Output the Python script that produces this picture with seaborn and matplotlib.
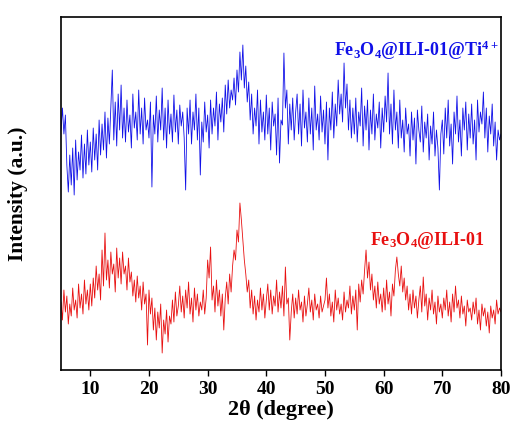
import numpy as np
import pandas as pd
import matplotlib
matplotlib.use("Agg")
import matplotlib.pyplot as plt
import seaborn as sns

# 2theta grid, 0.25 degree step from 5 to 80
two_theta = np.arange(5, 80.01, 0.25)

# Fe3O4@ILI-01@Ti4+ (blue, upper pattern)
blue_vals = [
    240, 262, 236, 255, 205, 178, 215, 185, 222, 175, 230, 190, 218, 200, 235, 192, 226, 196, 240, 205,
    228, 198, 242, 210, 236, 200, 250, 215, 246, 220, 258, 212, 252, 226, 262, 300, 230, 268, 224, 276,
    240, 285, 232, 262, 228, 270, 238, 255, 222, 276, 242, 258, 230, 280, 236, 262, 226, 272, 240, 250,
    232, 268, 183, 255, 236, 274, 228, 260, 240, 282, 230, 262, 222, 270, 236, 256, 228, 275, 238, 260,
    226, 265, 244, 258, 232, 180, 262, 236, 270, 226, 258, 240, 276, 230, 262, 195, 248, 228, 268, 238,
    255, 222, 270, 236, 262, 244, 278, 230, 266, 248, 272, 238, 285, 256, 290, 262, 280, 270, 292, 265,
    300, 278, 318, 290, 325, 282, 304, 268, 288, 250, 276, 236, 262, 244, 280, 226, 270, 238, 258, 230,
    275, 236, 262, 220, 268, 244, 256, 215, 272, 207, 250, 245, 317, 262, 280, 226, 266, 240, 272, 230,
    258, 276, 236, 266, 224, 280, 242, 258, 228, 272, 236, 262, 220, 284, 240, 256, 230, 274, 238, 260,
    226, 268, 210, 262, 240, 278, 232, 266, 244, 290, 256, 276, 248, 307, 262, 286, 240, 270, 232, 262,
    236, 272, 228, 258, 244, 282, 224, 264, 240, 270, 220, 260, 236, 276, 230, 256, 242, 268, 222, 262,
    238, 274, 248, 297, 236, 266, 226, 280, 240, 258, 222, 270, 232, 250, 218, 262, 236, 246, 214, 258,
    230, 252, 206, 260, 240, 228, 264, 218, 248, 232, 256, 210, 244, 226, 258, 214, 240, 222, 180, 236,
    250, 216, 262, 232, 270, 224, 246, 206, 258, 236, 274, 228, 250, 214, 262, 240, 268, 220, 256, 232,
    266, 226, 250, 210, 270, 238, 258, 246, 278, 232, 262, 218, 254, 236, 266, 224, 248, 210, 240, 230,
    236,
]

# Fe3O4@ILI-01 (red, lower pattern)
red_vals = [
    68, 50, 80, 58, 74, 46, 66, 54, 82, 60, 70, 52, 86, 62, 76, 56, 90, 66, 80, 60,
    86, 64, 92, 72, 104, 80, 96, 70, 120, 84, 137, 90, 110, 82, 118, 96, 106, 78, 122, 92,
    112, 86, 118, 96, 104, 80, 112, 88, 98, 74, 90, 68, 94, 72, 84, 60, 88, 66, 76, 25,
    80, 56, 72, 40, 62, 30, 58, 42, 66, 17, 50, 36, 60, 28, 54, 46, 70, 48, 78, 54,
    64, 84, 58, 74, 52, 80, 62, 88, 56, 72, 48, 82, 60, 76, 54, 68, 60, 80, 56, 72,
    110, 92, 123, 70, 84, 58, 90, 64, 80, 54, 76, 40, 72, 88, 66, 96, 78, 104, 120, 110,
    140, 128, 167, 150, 130, 110, 96, 78, 90, 62, 80, 56, 74, 50, 70, 58, 82, 60, 76, 52,
    70, 86, 60, 80, 56, 74, 64, 90, 58, 78, 62, 84, 54, 103, 66, 72, 30, 58, 76, 52,
    72, 56, 80, 60, 68, 48, 74, 54, 66, 82, 58, 70, 50, 76, 60, 66, 52, 74, 58, 64,
    70, 92, 62, 76, 54, 68, 48, 80, 60, 72, 56, 66, 50, 78, 58, 70, 62, 84, 56, 74,
    60, 80, 40, 86, 68, 90, 76, 100, 120, 92, 108, 80, 96, 70, 84, 62, 88, 66, 76, 58,
    82, 60, 90, 66, 78, 54, 86, 74, 100, 113, 96, 84, 104, 78, 92, 70, 84, 60, 76, 56,
    80, 62, 74, 52, 70, 84, 58, 93, 64, 76, 50, 72, 60, 80, 56, 68, 46, 74, 58, 66,
    52, 72, 60, 80, 54, 68, 48, 76, 58, 84, 62, 70, 52, 74, 56, 64, 44, 70, 58, 62,
    50, 68, 56, 72, 46, 60, 40, 66, 54, 62, 44, 58, 37, 64, 52, 60, 46, 70, 56, 62,
    58,
]

x_ticks = [10, 20, 30, 40, 50, 60, 70, 80]
label_blue = "Fe$_3$O$_4$@ILI-01@Ti$^{4+}$"
label_red = "Fe$_3$O$_4$@ILI-01"

sns.set_style("ticks")
plt.rcParams["font.family"] = ["Liberation Serif", "DejaVu Serif"]
plt.rcParams["font.weight"] = "bold"
plt.rcParams["mathtext.fontset"] = "custom"
plt.rcParams["mathtext.rm"] = "Liberation Serif:bold"
plt.rcParams["mathtext.default"] = "rm"
plt.rcParams["text.color"] = "black"
plt.rcParams["axes.labelcolor"] = "black"
plt.rcParams["xtick.color"] = "black"

df = pd.DataFrame({"two_theta": two_theta, "blue": blue_vals, "red": red_vals})

fig = plt.figure(figsize=(5.15, 4.22), dpi=100)
ax = fig.add_axes([0.1184, 0.1232, 0.8544, 0.8365])

sns.lineplot(data=df, x="two_theta", y="blue", color="#1010e8", linewidth=0.6,
             estimator=None, ax=ax)
sns.lineplot(data=df, x="two_theta", y="red", color="#e81010", linewidth=0.6,
             estimator=None, ax=ax)

ax.set_xlim(5, 80)
ax.set_ylim(0, 353)
ax.set_xticks(x_ticks)
ax.set_yticks([])
ax.tick_params(axis="x", direction="out", length=4, width=1, labelsize=14, pad=4)
for lab in ax.get_xticklabels():
    lab.set_fontweight("bold")
for sp in ax.spines.values():
    sp.set_visible(True)
    sp.set_linewidth(1.2)
    sp.set_color("black")

ax.set_xlabel("2θ (degree)", fontsize=16, fontweight="bold", labelpad=1)
ax.set_ylabel("Intensity (a.u.)", fontsize=15.5, fontweight="bold", labelpad=24)

ax.text(0.995, 0.905, label_blue, transform=ax.transAxes, color="#1010e8",
        fontsize=13, fontweight="bold", ha="right", va="center")
ax.text(0.962, 0.367, label_red, transform=ax.transAxes, color="#e81010",
        fontsize=13, fontweight="bold", ha="right", va="center")

plt.savefig("out.png", dpi=100)
